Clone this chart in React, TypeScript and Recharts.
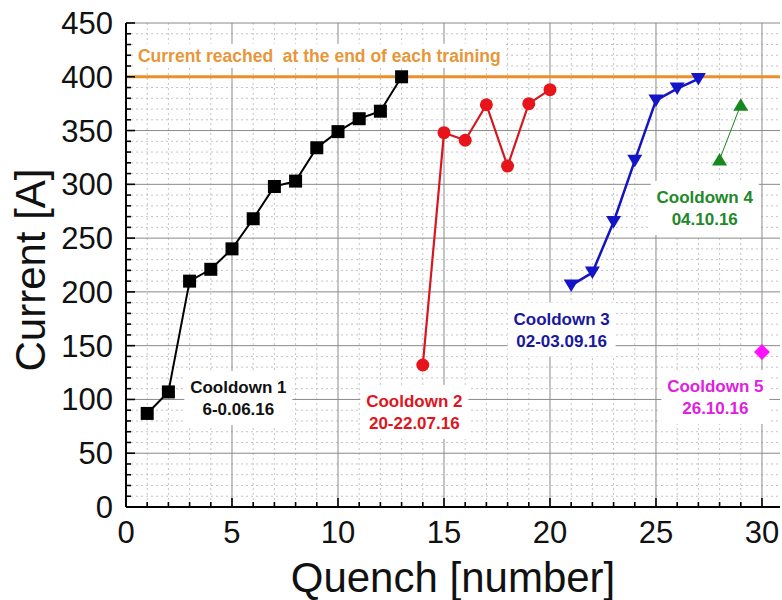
import { LineChart, Line, XAxis, YAxis, CartesianGrid, ReferenceLine, ReferenceDot, Label } from 'recharts';

// quench number / current [A] per cooldown
const cooldown1Quench = [1, 2, 3, 4, 5, 6, 7, 8, 9, 10, 11, 12, 13];
const cooldown1Current = [87, 107, 210, 221, 240, 268, 298, 303, 334, 349, 361, 368, 400];
const cooldown2Quench = [14, 15, 16, 17, 18, 19, 20];
const cooldown2Current = [132, 348, 341, 374, 317, 375, 388];
const cooldown3Quench = [21, 22, 23, 24, 25, 26, 27];
const cooldown3Current = [206, 218, 265, 322, 378, 389, 398];
const cooldown4Quench = [28, 29];
const cooldown4Current = [323, 374];
const cooldown5Quench = [30];
const cooldown5Current = [144];

const trainingLimit = 400;

const xTicks = [0, 1, 2, 3, 4, 5, 6, 7, 8, 9, 10, 11, 12, 13, 14, 15, 16, 17, 18, 19, 20, 21, 22, 23, 24, 25, 26, 27, 28, 29, 30];
const yTicks = [0, 10, 20, 30, 40, 50, 60, 70, 80, 90, 100, 110, 120, 130, 140, 150, 160, 170, 180, 190, 200, 210, 220, 230, 240, 250, 260, 270, 280, 290, 300, 310, 320, 330, 340, 350, 360, 370, 380, 390, 400, 410, 420, 430, 440, 450];
const xMajor = [0, 5, 10, 15, 20, 25, 30];
const yMajor = [0, 50, 100, 150, 200, 250, 300, 350, 400, 450];

const noteTitles = ['Cooldown 1', 'Cooldown 2', 'Cooldown 3', 'Cooldown 4', 'Cooldown 5'];
const noteDates = ['6-0.06.16', '20-22.07.16', '02-03.09.16', '04.10.16', '26.10.16'];
const noteQuench = [5.3, 13.6, 20.55, 27.3, 27.8];
const noteCurrent = [101.4, 88.4, 165, 278, 102.3];
const noteColors = ['#111111', '#e0141c', '#1818a0', '#22882a', '#e020e0'];

const toPoints = (xs: number[], ys: number[]) => xs.map((q, i) => ({ q, current: ys[i] }));

const FONT = '"Liberation Sans", Arial, sans-serif';
const xMinor = xTicks.filter((v) => !xMajor.includes(v));
const yMinor = yTicks.filter((v) => !yMajor.includes(v));

const BottomTick = (p: any) => {
  const major = p.payload.value % 5 === 0;
  return (
    <g>
      <line x1={p.x} x2={p.x} y1={p.y} y2={p.y - (major ? 9 : 5)} stroke="#000" strokeWidth={1.6} />
      {major && (
        <text x={p.x} y={p.y + 36} textAnchor="middle" fontSize={31} fontFamily={FONT} fill="#111">
          {p.payload.value}
        </text>
      )}
    </g>
  );
};

const TopTick = (p: any) => {
  const major = p.payload.value % 5 === 0;
  return <line x1={p.x} x2={p.x} y1={p.y} y2={p.y + (major ? 9 : 5)} stroke="#000" strokeWidth={1.6} />;
};

const LeftTick = (p: any) => {
  const major = p.payload.value % 50 === 0;
  return (
    <g>
      <line x1={p.x} x2={p.x + (major ? 9 : 5)} y1={p.y} y2={p.y} stroke="#000" strokeWidth={1.6} />
      {major && (
        <text x={p.x - 13} y={p.y + 11} textAnchor="end" fontSize={31} fontFamily={FONT} fill="#111">
          {p.payload.value}
        </text>
      )}
    </g>
  );
};

const RightTick = (p: any) => {
  const major = p.payload.value % 50 === 0;
  return <line x1={p.x} x2={p.x - (major ? 9 : 5)} y1={p.y} y2={p.y} stroke="#000" strokeWidth={1.6} />;
};

const Square = ({ cx, cy }: any) => <rect x={cx - 6.5} y={cy - 6.5} width={13} height={13} fill="#000" />;
const Circle = ({ cx, cy }: any) => <circle cx={cx} cy={cy} r={6.5} fill="#e8141c" />;
const TriDown = ({ cx, cy }: any) => (
  <path d={`M${cx - 7.5},${cy - 6} L${cx + 7.5},${cy - 6} L${cx},${cy + 6.5} Z`} fill="#1414c8" />
);
const TriUp = ({ cx, cy }: any) => (
  <path d={`M${cx - 7.5},${cy + 6} L${cx + 7.5},${cy + 6} L${cx},${cy - 6.5} Z`} fill="#17871f" />
);
const Diamond = ({ cx, cy }: any) => (
  <path d={`M${cx},${cy - 8} L${cx + 8},${cy} L${cx},${cy + 8} L${cx - 8},${cy} Z`} fill="#ff10ff" />
);

const Note = ({ cx, cy, title, date, color }: any) => (
  <g>
    <rect x={cx - 54} y={cy - 27} width={108} height={54} fill="#fff" />
    <text x={cx} y={cy - 5} textAnchor="middle" fontSize={17} fontWeight="bold" fontFamily={FONT} fill={color}>
      {title}
    </text>
    <text x={cx} y={cy + 17.5} textAnchor="middle" fontSize={17} fontWeight="bold" fontFamily={FONT} fill={color}>
      {date}
    </text>
  </g>
);

const Banner = ({ cx, cy }: any) => (
  <g>
    <rect x={cx - 4} y={cy - 12} width={372} height={24} fill="#fff" />
    <text x={cx} y={cy + 6} fontSize={17.5} fontWeight="bold" fontFamily={FONT} fill="#e8963a" style={{ whiteSpace: 'pre' }}>
      Current reached  at the end of each training
    </text>
  </g>
);

export default function App() {
  return (
    <div style={{ position: 'absolute', left: 0, top: 0, background: '#fff' }}>
      <LineChart width={782} height={600} margin={{ top: 23, right: 2, left: 0, bottom: 0 }}>
        <CartesianGrid horizontalValues={yMinor} verticalValues={xMinor} stroke="#c4c4c4" strokeDasharray="2 3" />
        <CartesianGrid horizontalValues={yMajor} verticalValues={xMajor} stroke="#8a8a8a" strokeWidth={1} />
        <XAxis
          type="number"
          dataKey="q"
          domain={[0, 30.85]}
          ticks={xTicks}
          interval={0}
          allowDataOverflow
          tickLine={false}
          tickSize={0}
          tickMargin={0}
          tick={(p: any) => <BottomTick {...p} />}
          axisLine={{ stroke: '#000', strokeWidth: 2 }}
          height={93}
        >
          <Label
            content={({ viewBox }: any) => (
              <text x={viewBox.x + viewBox.width / 2} y={viewBox.y + viewBox.height - 8} textAnchor="middle" fontSize={42} fontFamily={FONT} fill="#111">
                Quench [number]
              </text>
            )}
          />
        </XAxis>
        <XAxis
          xAxisId="top"
          orientation="top"
          type="number"
          domain={[0, 30.85]}
          ticks={xTicks}
          interval={0}
          allowDataOverflow
          tickLine={false}
          tickSize={0}
          tickMargin={0}
          tick={(p: any) => <TopTick {...p} />}
          axisLine={{ stroke: '#000', strokeWidth: 2 }}
          height={0}
        />
        <YAxis
          type="number"
          domain={[0, 450]}
          ticks={yTicks}
          interval={0}
          allowDataOverflow
          tickLine={false}
          tickSize={0}
          tickMargin={0}
          tick={(p: any) => <LeftTick {...p} />}
          axisLine={{ stroke: '#000', strokeWidth: 2 }}
          width={126}
        >
          <Label
            content={({ viewBox }: any) => {
              const x = 30;
              const y = viewBox.y + viewBox.height / 2 + 5;
              return (
                <text x={x} y={y} transform={`rotate(-90 ${x} ${y})`} textAnchor="middle" dominantBaseline="central" fontSize={42} fontFamily={FONT} fill="#111">
                  Current [A]
                </text>
              );
            }}
          />
        </YAxis>
        <YAxis
          yAxisId="right"
          orientation="right"
          type="number"
          domain={[0, 450]}
          ticks={yTicks}
          interval={0}
          allowDataOverflow
          tickLine={false}
          tickSize={0}
          tickMargin={0}
          tick={(p: any) => <RightTick {...p} />}
          axisLine={{ stroke: '#000', strokeWidth: 2 }}
          width={0}
        />

        <ReferenceDot x={0.565} y={419.5} r={1} shape={(p: any) => <Banner cx={p.cx} cy={p.cy} />} />
        {noteTitles.map((t, i) => (
          <ReferenceDot
            key={t}
            x={noteQuench[i]}
            y={noteCurrent[i]}
            r={1}
            shape={(p: any) => <Note cx={p.cx} cy={p.cy} title={t} date={noteDates[i]} color={noteColors[i]} />}
          />
        ))}

        <ReferenceLine y={trainingLimit} stroke="#ec8f2a" strokeWidth={3} />

        <Line
          data={toPoints(cooldown1Quench, cooldown1Current)}
          dataKey="current"
          stroke="#000"
          strokeWidth={2}
          isAnimationActive={false}
          dot={(p: any) => <Square key={p.index} cx={p.cx} cy={p.cy} />}
        />
        <Line
          data={toPoints(cooldown2Quench, cooldown2Current)}
          dataKey="current"
          stroke="#d8161e"
          strokeWidth={2.2}
          isAnimationActive={false}
          dot={(p: any) => <Circle key={p.index} cx={p.cx} cy={p.cy} />}
        />
        <Line
          data={toPoints(cooldown3Quench, cooldown3Current)}
          dataKey="current"
          stroke="#1414c0"
          strokeWidth={2.5}
          isAnimationActive={false}
          dot={(p: any) => <TriDown key={p.index} cx={p.cx} cy={p.cy} />}
        />
        <Line
          data={toPoints(cooldown4Quench, cooldown4Current)}
          dataKey="current"
          stroke="#17871f"
          strokeWidth={1}
          isAnimationActive={false}
          dot={(p: any) => <TriUp key={p.index} cx={p.cx} cy={p.cy} />}
        />
        <Line
          data={toPoints(cooldown5Quench, cooldown5Current)}
          dataKey="current"
          stroke="#ff10ff"
          strokeWidth={1}
          isAnimationActive={false}
          dot={(p: any) => <Diamond key={p.index} cx={p.cx} cy={p.cy} />}
        />
      </LineChart>
    </div>
  );
}
